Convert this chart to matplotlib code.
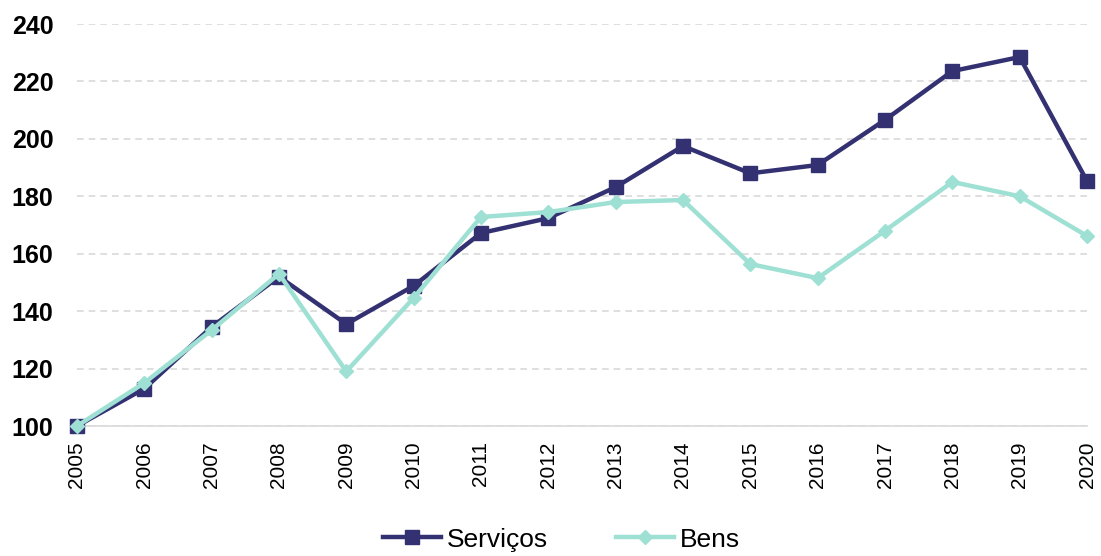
import matplotlib
matplotlib.use("Agg")
import matplotlib.pyplot as plt

years = list(range(2005, 2021))
servicos = [100, 113, 134.5, 152, 135.5, 148.8, 167.2, 172.4, 183.2, 197.5,
            188, 190.9, 206.6, 223.6, 228.5, 185.3]
bens = [100, 115, 133.4, 153, 119, 144.6, 172.8, 174.5, 178, 178.7,
        156.4, 151.5, 168, 185, 180, 166.2]
yticks = [100, 120, 140, 160, 180, 200, 220, 240]


def main():
    plt.rcParams["font.family"] = ["Liberation Sans", "DejaVu Sans"]
    fig = plt.figure(figsize=(11.01, 5.56), dpi=100)
    ax = fig.add_axes([0.0699, 0.2338, 0.9174, 0.723])

    ax.plot(years, servicos, color="#333172", lw=3.2, marker="s", ms=10,
            label="Serviços", zorder=3, clip_on=False)
    ax.plot(years, bens, color="#9ee0d3", lw=3.2, marker="D", ms=7,
            label="Bens", zorder=4, clip_on=False)

    ax.set_xlim(2005, 2020)
    ax.set_ylim(100, 240)
    ax.set_yticks(yticks)
    ax.set_xticks(years)
    ax.set_xticklabels([str(y) for y in years], rotation=90, fontsize=15)
    for lbl in ax.get_yticklabels():
        lbl.set_fontweight("bold")
        lbl.set_fontsize(18)
    ax.tick_params(length=0)
    ax.tick_params(axis="x", pad=11)
    ax.tick_params(axis="y", pad=17)

    ax.grid(axis="y", color="#d9d9d9", ls=(0, (4, 3)), lw=1.2)
    for s in ["top", "right", "left"]:
        ax.spines[s].set_visible(False)
    ax.spines["bottom"].set_color("#d9d9d9")
    ax.spines["bottom"].set_linewidth(1.2)

    fig.legend(loc="lower center", ncol=2, frameon=False, fontsize=19,
               handlelength=2.2, columnspacing=2.6, handletextpad=0.2,
               bbox_to_anchor=(0.51, -0.035))

    fig.savefig("out.png", dpi=100)


if __name__ == "__main__":
    main()
